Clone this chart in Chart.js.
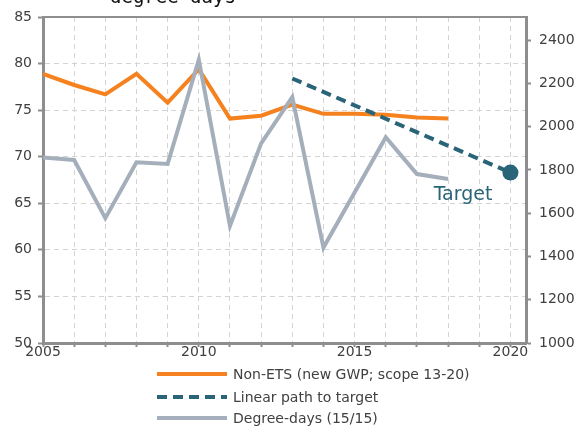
<!DOCTYPE html>
<html>
<head>
<meta charset="utf-8">
<script src="https://cdn.jsdelivr.net/npm/chart.js@4.4.1/dist/chart.umd.min.js"></script>
<style>
  html, body { margin: 0; padding: 0; background: #fff; }
  #wrap { width: 576px; height: 427px; position: relative; }
</style>
</head>
<body>
<div id="wrap"><canvas id="chart"></canvas></div>
<script>
// --- data ---
const YEARS = [2005, 2006, 2007, 2008, 2009, 2010, 2011, 2012, 2013, 2014, 2015, 2016, 2017, 2018];
const NON_ETS = [78.9, 77.7, 76.7, 78.9, 75.8, 79.4, 74.1, 74.4, 75.6, 74.6, 74.6, 74.5, 74.2, 74.1];
const DEGREE_DAYS = [1858, 1846, 1577, 1835, 1828, 2310, 1541, 1923, 2137, 1441, 1696, 1951, 1781, 1758];
const PATH_YEARS = [2013, 2020];
const PATH_VALUES = [78.4, 68.3];
const LEFT_TICKS = [50, 55, 60, 65, 70, 75, 80, 85];
const RIGHT_TICKS = [1000, 1200, 1400, 1600, 1800, 2000, 2200, 2400];
const X_TICKS = [2005, 2006, 2007, 2008, 2009, 2010, 2011, 2012, 2013, 2014, 2015, 2016, 2017, 2018, 2019, 2020];
const X_LABEL_YEARS = [2005, 2010, 2015, 2020];

const ORANGE = '#f5821f';
const TEAL = '#2a6478';
const GREY = '#a5afbb';
const AXIS = '#8e8e8e';
const GRID = '#d4d4d4';
const TEXT = '#404040';
const FONT = 'DejaVu Sans';

const toPts = (xs, ys) => xs.map((x, i) => ({ x, y: ys[i] }));

// legend, target label, frame top line and cut-off title
const extras = {
  id: 'extras',
  beforeDatasetsDraw(chart) {
    const { ctx, chartArea: a } = chart;
    ctx.save();
    ctx.strokeStyle = AXIS;
    ctx.lineWidth = 2;
    ctx.beginPath();
    ctx.moveTo(a.left, a.top);
    ctx.lineTo(a.right, a.top);
    ctx.stroke();
    ctx.restore();
  },
  afterDraw(chart) {
    const { ctx } = chart;
    const xs = chart.scales.x, yl = chart.scales.y;
    ctx.save();

    // title, mostly off the top of the picture
    ctx.fillStyle = '#111';
    ctx.font = '19px "DejaVu Sans Mono"';
    ctx.textBaseline = 'alphabetic';
    ctx.fillText('degree-days', 110, 2.5);

    // "Target" label next to the end point
    const tx = xs.getPixelForValue(PATH_YEARS[1]);
    const ty = yl.getPixelForValue(PATH_VALUES[1]);
    ctx.fillStyle = TEAL;
    ctx.font = '19px "' + FONT + '"';
    ctx.textAlign = 'right';
    ctx.fillText('Target', tx - 18, ty + 27);

    // legend, one item per row
    const rows = [374, 397, 418];
    ctx.textAlign = 'left';
    ctx.textBaseline = 'middle';
    ctx.font = '14px "' + FONT + '"';
    chart.data.datasets.forEach((ds, i) => {
      const y = rows[i];
      ctx.strokeStyle = ds.borderColor;
      ctx.lineWidth = ds.borderWidth;
      ctx.setLineDash(ds.borderDash || []);
      ctx.beginPath();
      ctx.moveTo(157, y);
      ctx.lineTo(227, y);
      ctx.stroke();
      ctx.setLineDash([]);
      ctx.fillStyle = TEXT;
      ctx.fillText(ds.label, 233, y + 1);
    });
    ctx.restore();
  }
};

const tickFont = { family: FONT, size: 14 };

new Chart(document.getElementById('chart'), {
  type: 'line',
  data: {
    datasets: [
      {
        label: 'Non-ETS (new GWP; scope 13-20)',
        data: toPts(YEARS, NON_ETS),
        borderColor: ORANGE,
        backgroundColor: ORANGE,
        borderWidth: 4,
        pointRadius: 0,
        yAxisID: 'y',
        order: 2
      },
      {
        label: 'Linear path to target',
        data: toPts(PATH_YEARS, PATH_VALUES),
        borderColor: TEAL,
        backgroundColor: TEAL,
        borderWidth: 4,
        borderDash: [10, 6],
        pointRadius: [0, 8],
        pointBackgroundColor: TEAL,
        pointBorderWidth: 0,
        yAxisID: 'y',
        order: 0
      },
      {
        label: 'Degree-days (15/15)',
        data: toPts(YEARS, DEGREE_DAYS),
        borderColor: GREY,
        backgroundColor: GREY,
        borderWidth: 4,
        pointRadius: 0,
        yAxisID: 'y2',
        order: 1
      }
    ]
  },
  options: {
    responsive: true,
    maintainAspectRatio: false,
    animation: false,
    layout: { padding: { top: 17, left: 0, right: 0, bottom: 0 } },
    plugins: {
      legend: { display: false },
      tooltip: { enabled: false },
      title: { display: false }
    },
    scales: {
      x: {
        type: 'linear',
        min: 2005,
        max: 2020.5,
        afterBuildTicks: s => { s.ticks = X_TICKS.map(v => ({ value: v })); },
        afterFit: s => { s.height = 84; },
        ticks: {
          autoSkip: false,
          maxRotation: 0,
          padding: -3,
          color: TEXT,
          font: tickFont,
          callback: v => X_LABEL_YEARS.includes(v) ? String(v) : ''
        },
        grid: { color: GRID, lineWidth: 1, tickLength: 4, tickColor: AXIS, tickWidth: 2, tickBorderDash: [] },
        border: { color: AXIS, width: 3, dash: [5, 4] }
      },
      y: {
        position: 'left',
        min: 50,
        max: 85,
        afterBuildTicks: s => { s.ticks = LEFT_TICKS.map(v => ({ value: v })); },
        afterFit: s => { s.width = 43; },
        ticks: { padding: 6, color: TEXT, font: tickFont, callback: v => String(v) },
        grid: { color: GRID, lineWidth: 1, tickLength: 5, tickColor: AXIS, tickWidth: 2, tickBorderDash: [] },
        border: { color: AXIS, width: 3, dash: [5, 4] }
      },
      y2: {
        position: 'right',
        min: 1000,
        max: 2507,
        afterBuildTicks: s => { s.ticks = RIGHT_TICKS.map(v => ({ value: v })); },
        afterFit: s => { s.width = 50; },
        ticks: { padding: 8, color: TEXT, font: tickFont, callback: v => String(v) },
        grid: { drawOnChartArea: false, tickLength: 5, tickColor: AXIS, tickWidth: 2 },
        border: { color: AXIS, width: 3 }
      }
    }
  },
  plugins: [extras]
});
</script>
</body>
</html>
